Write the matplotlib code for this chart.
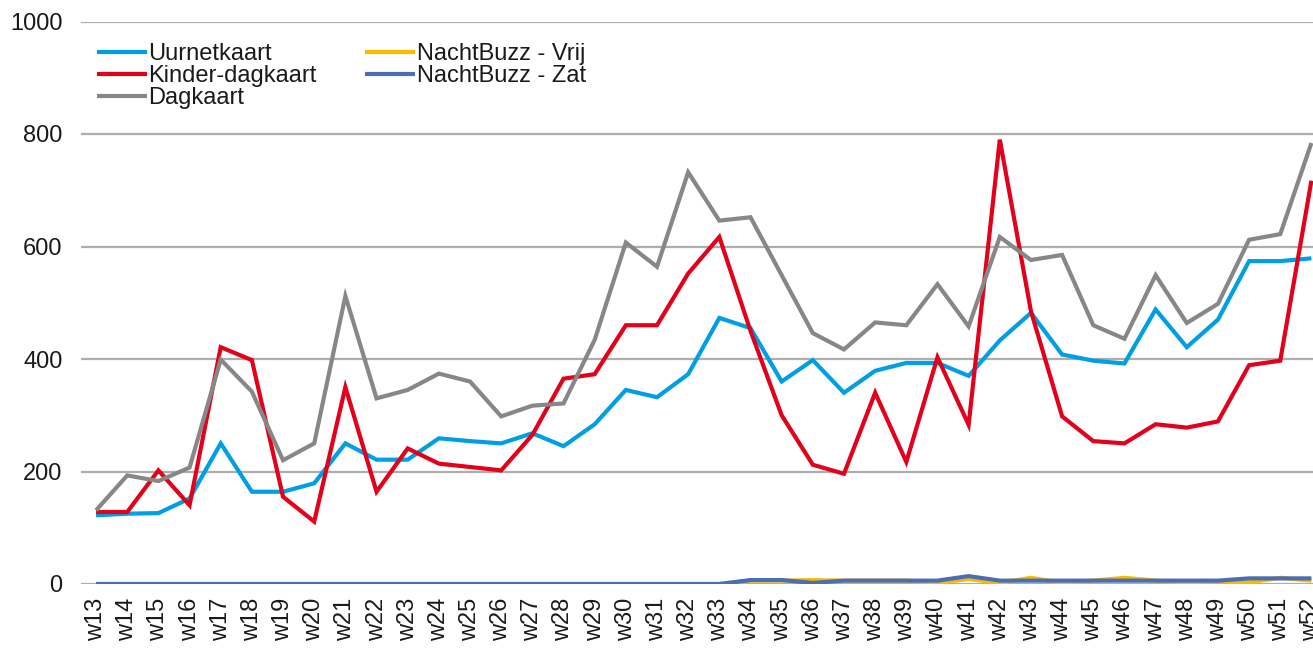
import matplotlib
matplotlib.use("Agg")
import matplotlib.pyplot as plt

plt.rcParams['font.family'] = ['Liberation Sans', 'DejaVu Sans']

weeks = [f"w{n}" for n in range(13, 53)]

uurnetkaart = [122, 125, 126, 152, 250, 164, 164, 179, 250, 221,
               221, 259, 254, 250, 268, 245, 284, 345, 332, 373,
               473, 455, 360, 398, 340, 379, 393, 393, 370, 433,
               482, 408, 397, 392, 488, 421, 470, 574, 574, 579]
kinder_dagkaart = [128, 128, 202, 140, 421, 398, 155, 111, 350, 164,
                   241, 214, 208, 202, 265, 365, 373, 460, 460, 552,
                   617, 450, 300, 212, 196, 340, 217, 403, 283, 790,
                   485, 298, 254, 250, 284, 278, 289, 389, 397, 717]
dagkaart = [131, 193, 183, 207, 399, 342, 220, 250, 512, 330,
            345, 374, 360, 298, 317, 321, 434, 607, 564, 732,
            646, 652, 549, 446, 417, 465, 460, 533, 458, 617,
            576, 585, 460, 436, 549, 464, 498, 612, 622, 784]
nachtbuzz_vrij = [0, 0, 0, 0, 0, 0, 0, 0, 0, 0,
                  0, 0, 0, 0, 0, 0, 0, 0, 0, 0,
                  0, 6, 6, 7, 6, 6, 6, 2, 9, 2,
                  11, 2, 6, 11, 6, 3, 5, 3, 11, 6]
nachtbuzz_zat = [0, 0, 0, 0, 0, 0, 0, 0, 0, 0,
                 0, 0, 0, 0, 0, 0, 0, 0, 0, 0,
                 0, 7, 7, 2, 6, 6, 6, 6, 14, 6,
                 6, 6, 6, 6, 6, 6, 6, 10, 10, 10]

series = [
    ('Uurnetkaart', uurnetkaart, '#009FE3'),
    ('Kinder-dagkaart', kinder_dagkaart, '#E3001B'),
    ('Dagkaart', dagkaart, '#878787'),
    ('NachtBuzz - Vrij', nachtbuzz_vrij, '#FBBA00'),
    ('NachtBuzz - Zat', nachtbuzz_zat, '#4A6EB4'),
]

fig = plt.figure(figsize=(13.13, 6.52), dpi=100)
# axes run past the right edge, like the cropped original
ax = fig.add_axes([80.5 / 1313, 68 / 652, 1246.5 / 1313, 562.5 / 652])

x = list(range(len(weeks)))
for label, values, color in series:
    ax.plot(x, values, color=color, lw=3.0, label=label,
            solid_joinstyle='miter', solid_capstyle='butt', zorder=3)

ax.set_xlim(-0.5, len(weeks) - 0.5)
ax.set_ylim(0, 1000)
ax.set_yticks(range(0, 1001, 200))
ax.set_xticks(x)
ax.set_xticklabels(weeks, rotation=90)
ax.grid(axis='y', color='#ADADAD', lw=1.6, zorder=0)
ax.set_axisbelow(True)
for s in ax.spines.values():
    s.set_visible(False)
ax.tick_params(axis='both', length=0, labelsize=17, colors='#1a1a1a')
ax.tick_params(axis='y', pad=13)
ax.tick_params(axis='x', pad=10)

fig.legend(loc='upper left', bbox_to_anchor=(97 / 1313, 1 - 43 / 652),
           ncol=2, frameon=False, fontsize=17, borderpad=0,
           handlelength=2.1, handletextpad=0.08, columnspacing=2.05,
           labelspacing=0.0, borderaxespad=0, labelcolor='#1a1a1a')

fig.savefig('out.png', dpi=100)
